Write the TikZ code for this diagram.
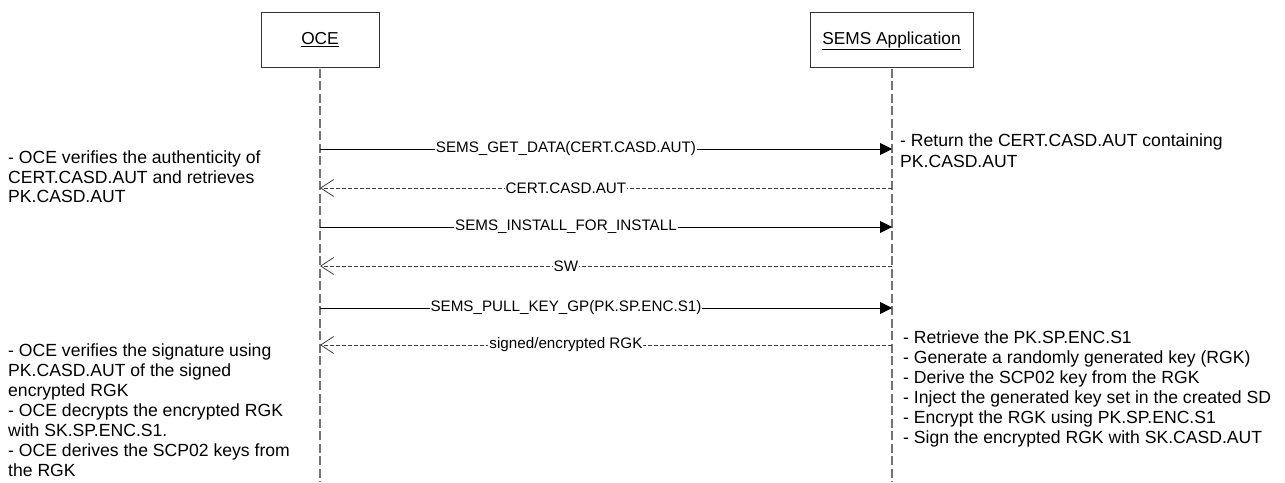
\documentclass[tikz,border=0pt]{standalone}
\usepackage{fontspec}
\setmainfont{Liberation Sans}
\usetikzlibrary{arrows.meta}
\begin{document}
\begin{tikzpicture}[x=1pt,y=1pt,
  headbox/.style={draw=black!80, line width=0.9pt, minimum width=118pt, minimum height=55pt, anchor=north, inner sep=0pt, font=\fontsize{17.3pt}{20pt}\selectfont, text depth=0pt},
  lifeline/.style={draw=black!55, line width=1.3pt, dash pattern=on 9pt off 3.5pt},
  callmsg/.style={draw=black, line width=0.9pt, -{Triangle[length=12pt,width=12pt]}},
  replymsg/.style={draw=black!75, line width=0.8pt, dash pattern=on 4pt off 2pt, -{Straight Barb[length=13pt,width=17pt,line width=0.8pt]}},
  msglabel/.style={fill=white, inner sep=1pt, font=\fontsize{15.2pt}{18pt}\selectfont, pos=0.43},
  note/.style={anchor=base west, align=left, inner sep=0pt, font=\fontsize{17.6pt}{20pt}\selectfont}
]
\useasboundingbox (0,0) rectangle (1285,-482);
% header boxes
\node[headbox] (oce) at (320,-12) {};
\node[headbox, minimum width=163pt] (sems) at (891.5,-12) {};
\node[anchor=base, inner sep=0pt, font=\fontsize{17.3pt}{20pt}\selectfont] (oceT) at (320,-44.5) {\underline{OCE}};
\node[anchor=base, inner sep=0pt, font=\fontsize{17.3pt}{20pt}\selectfont] (semsT) at (891.5,-44.5) {\underline{SEMS Application}};
% lifelines
\coordinate (oceEnd) at (320,-482);
\coordinate (semsEnd) at (892,-482);
\draw[lifeline] (oce.south) ++(0,-1) -- (oceEnd);
\draw[lifeline] (sems.south) ++(0.5,-1) -- (semsEnd);
% message anchor points
\foreach \i/\y in {1/149,2/188,3/227,4/266,5/308,6/345}{
  \coordinate (o\i) at (320,-\y);
  \coordinate (s\i) at (892,-\y);
}
\draw[callmsg] (o1) -- node[msglabel] (m1) {SEMS\_GET\_DATA(CERT.CASD.AUT)} (s1);
\draw[replymsg] (s2) -- node[msglabel, pos=0.57] (m2) {CERT.CASD.AUT} (o2);
\draw[callmsg] (o3) -- node[msglabel] (m3) {SEMS\_INSTALL\_FOR\_INSTALL} (s3);
\draw[replymsg] (s4) -- node[msglabel, pos=0.57] (m4) {SW} (o4);
\draw[callmsg] (o5) -- node[msglabel] (m5) {SEMS\_PULL\_KEY\_GP(PK.SP.ENC.S1)} (s5);
\draw[replymsg] (s6) -- node[msglabel, pos=0.57] (m6) {signed/encrypted RGK} (o6);
% notes (base anchor = baseline of last line)
\node[note, font=\fontsize{17.6pt}{19.7pt}\selectfont] (n1) at (8,-202.7) {- OCE verifies the authenticity of\\CERT.CASD.AUT and retrieves\\PK.CASD.AUT};
\node[note, font=\fontsize{17.6pt}{21pt}\selectfont] (n2) at (900,-167.7) {- Return the CERT.CASD.AUT containing\\PK.CASD.AUT};
\node[note] (n3) at (8,-476) {- OCE verifies the signature using\\PK.CASD.AUT of the signed\\encrypted RGK\\- OCE decrypts the encrypted RGK\\with SK.SP.ENC.S1.\\- OCE derives the SCP02 keys from\\the RGK};
\node[note] (n4) at (903,-443.3) {- Retrieve the PK.SP.ENC.S1\\- Generate a randomly generated key (RGK)\\- Derive the SCP02 key from the RGK\\- Inject the generated key set in the created SD\\- Encrypt the RGK using PK.SP.ENC.S1\\- Sign the encrypted RGK with SK.CASD.AUT};
\end{tikzpicture}
\end{document}
